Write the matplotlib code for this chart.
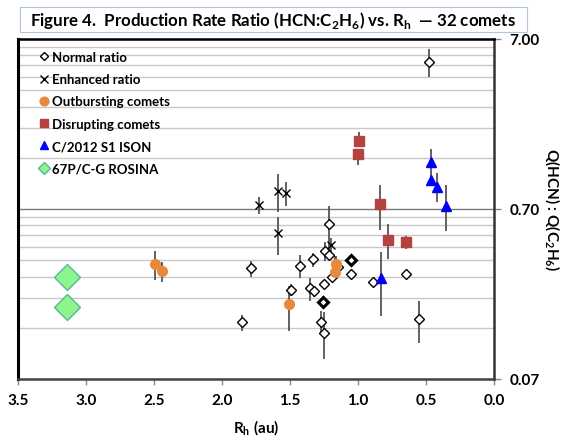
"""
HCN:C2H6 production rate ratio vs heliocentric distance (Figure 4 recreation).
"""

import matplotlib.pyplot as plt
from matplotlib.patches import Rectangle
from matplotlib.ticker import FixedLocator, NullFormatter

plt.rcParams["font.family"] = ["Lato", "DejaVu Sans"]
plt.rcParams["mathtext.fontset"] = "custom"
plt.rcParams["mathtext.rm"] = "Lato"
plt.rcParams["mathtext.bf"] = "Lato:bold"

# --- data (Rh in au, ratio, lower/upper error-bar ends) ---
normal_rh  = [0.48, 1.79, 1.85, 1.49, 1.43, 1.35, 1.32, 1.33, 1.25, 1.26, 1.27,
              1.25, 1.24, 1.21, 1.21, 1.19, 1.15, 1.05, 1.05, 0.89, 0.65, 0.55]
normal_q   = [5.13, 0.313, 0.151, 0.234, 0.325, 0.239, 0.231, 0.356, 0.254, 0.198, 0.151,
              0.131, 0.398, 0.375, 0.571, 0.278, 0.318, 0.352, 0.290, 0.259, 0.290, 0.158]
normal_lo  = [4.19, 0.278, 0.135, 0.215, 0.274, 0.202, 0.212, 0.318, 0.245, 0.185, 0.129,
              0.092, 0.347, 0.360, 0.356, 0.270, 0.305, 0.330, 0.290, 0.243, 0.290, 0.114]
normal_hi  = [6.11, 0.347, 0.166, 0.254, 0.377, 0.275, 0.248, 0.386, 0.262, 0.214, 0.177,
              0.174, 0.450, 0.390, 0.732, 0.286, 0.330, 0.370, 0.290, 0.274, 0.290, 0.200]

# a few points sit on top of each other in the original (drawn twice there)
double_rh = [1.05, 1.26]
double_q  = [0.352, 0.198]

enh_rh = [1.73, 1.59, 1.53, 1.59, 1.20]
enh_q  = [0.742, 0.897, 0.869, 0.503, 0.430]
enh_lo = [0.654, 0.670, 0.732, 0.375, 0.390]
enh_hi = [0.827, 1.125, 1.005, 0.626, 0.470]

out_rh = [2.49, 2.44, 1.51, 1.16, 1.17]
out_q  = [0.333, 0.301, 0.193, 0.333, 0.297]
out_lo = [0.269, 0.262, 0.135, 0.300, 0.270]
out_hi = [0.398, 0.340, 0.248, 0.370, 0.370]

dis_rh = [0.99, 1.00, 0.84, 0.78, 0.65]
dis_q  = [1.765, 1.475, 0.752, 0.462, 0.446]
dis_lo = [1.650, 1.270, 0.529, 0.356, 0.408]
dis_hi = [1.995, 1.577, 0.973, 0.571, 0.486]

ison_rh = [0.46, 0.46, 0.42, 0.35, 0.83]
ison_q  = [1.33, 1.04, 0.947, 0.732, 0.274]
ison_lo = [1.20, 0.95, 0.767, 0.522, 0.164]
ison_hi = [1.577, 1.20, 1.14, 0.970, 0.389]

rosina_rh = [3.14, 3.14]
rosina_q  = [0.280, 0.186]


def yerr(q, lo, hi):
    return [[v - l for v, l in zip(q, lo)], [h - v for v, h in zip(q, hi)]]


fig = plt.figure(figsize=(5.68, 4.39), dpi=100)
ax = fig.add_axes([0.0317, 0.1344, 0.838, 0.7745])

eb = dict(ecolor="#555555", elinewidth=1.3, capsize=0, linestyle="none")

ax.errorbar(normal_rh, normal_q, yerr=yerr(normal_q, normal_lo, normal_hi), **eb, zorder=2)
ax.errorbar(enh_rh, enh_q, yerr=yerr(enh_q, enh_lo, enh_hi), **eb, zorder=2)
ax.errorbar(out_rh, out_q, yerr=yerr(out_q, out_lo, out_hi), **eb, zorder=2)
ax.errorbar(dis_rh, dis_q, yerr=yerr(dis_q, dis_lo, dis_hi), **eb, zorder=2)
ax.errorbar(ison_rh, ison_q, yerr=yerr(ison_q, ison_lo, ison_hi), **eb, zorder=2)

ax.plot(normal_rh, normal_q, "D", ms=5, mfc="white", mec="black", mew=1.0,
        linestyle="none", label="Normal ratio", zorder=4)
ax.plot(double_rh, double_q, "D", ms=5, mfc="none", mec="black", mew=2.2,
        linestyle="none", zorder=4)
ax.plot(enh_rh, enh_q, "x", ms=6, color="black", mew=1.0,
        linestyle="none", label="Enhanced ratio", zorder=5)
ax.plot(out_rh, out_q, "o", ms=7, color="#e8893a",
        linestyle="none", label="Outbursting comets", zorder=4)
ax.plot(dis_rh, dis_q, "s", ms=7, color="#b5423f",
        linestyle="none", label="Disrupting comets", zorder=4)
ax.plot(ison_rh, ison_q, "^", ms=7, color="#0000ff",
        linestyle="none", label="C/2012 S1 ISON", zorder=4)
ax.plot(rosina_rh, rosina_q, "D", ms=13, mfc="#8cf58c", mec="#5fb39a", mew=1.0,
        linestyle="none", label="67P/C-G ROSINA", zorder=4)

ax.set_yscale("log")
ax.set_ylim(0.07, 7.0)
ax.set_xlim(3.5, 0.0)

ax.yaxis.set_major_locator(FixedLocator([0.07, 0.70, 7.00]))
ax.yaxis.set_minor_locator(FixedLocator([0.07 * k for k in range(2, 10)] +
                                        [0.7 * k for k in range(2, 10)]))
ax.yaxis.set_minor_formatter(NullFormatter())
ax.set_yticklabels(["0.07", "0.70", "7.00"])
ax.yaxis.tick_right()
ax.tick_params(axis="y", which="major", length=5, width=1, color="#888888",
               labelsize=11, pad=6)
ax.tick_params(axis="y", which="minor", length=0)
ax.grid(True, axis="y", which="minor", color="#c8c8c8", linewidth=1.0, zorder=0)
ax.grid(True, axis="y", which="major", color="#7a7a7a", linewidth=1.0, zorder=0)
ax.set_axisbelow(True)

ax.set_xticks([3.5, 3.0, 2.5, 2.0, 1.5, 1.0, 0.5, 0.0])
ax.set_xticklabels(["3.5", "3.0", "2.5", "2.0", "1.5", "1.0", "0.5", "0.0"])
ax.tick_params(axis="x", length=4, width=1, color="#888888", labelsize=11, pad=6)
for lbl in ax.get_xticklabels() + ax.get_yticklabels():
    lbl.set_fontweight("bold")

ax.set_xlabel(r"R$_\mathbf{h}$ (au)", fontsize=11, fontweight="bold", labelpad=8)
ax.yaxis.set_label_position("right")
ax.set_ylabel(r"Q(HCN) : Q(C$_\mathbf{2}$H$_\mathbf{6}$)", fontsize=11,
              fontweight="bold", rotation=270, labelpad=16)

for side, lw, c in [("left", 2.2, "black"), ("top", 1.8, "black"),
                    ("right", 1.8, "#333333"), ("bottom", 1.8, "#444444")]:
    ax.spines[side].set_linewidth(lw)
    ax.spines[side].set_color(c)

leg = ax.legend(loc="upper left", bbox_to_anchor=(0.015, 1.0), frameon=False,
                prop={"weight": "bold", "size": 9.5}, handletextpad=0.05,
                handlelength=1.1, labelspacing=0.78, markerscale=0.9)
leg.legend_handles[-1].set_markersize(6)

# title in a thin box
fig.patches.append(Rectangle((20 / 568, 1 - 33 / 439), 507 / 568, 25 / 439,
                             transform=fig.transFigure, fill=False,
                             edgecolor="#b0c4de", linewidth=0.8))
fig.text(273 / 568, 1 - 20.5 / 439,
         r"Figure 4.  Production Rate Ratio (HCN:C$_\mathbf{2}$H$_\mathbf{6}$) vs. R$_\mathbf{h}$  — 32 comets",
         ha="center", va="center", fontsize=12.2, fontweight="bold")

fig.savefig("out.png", dpi=100)
